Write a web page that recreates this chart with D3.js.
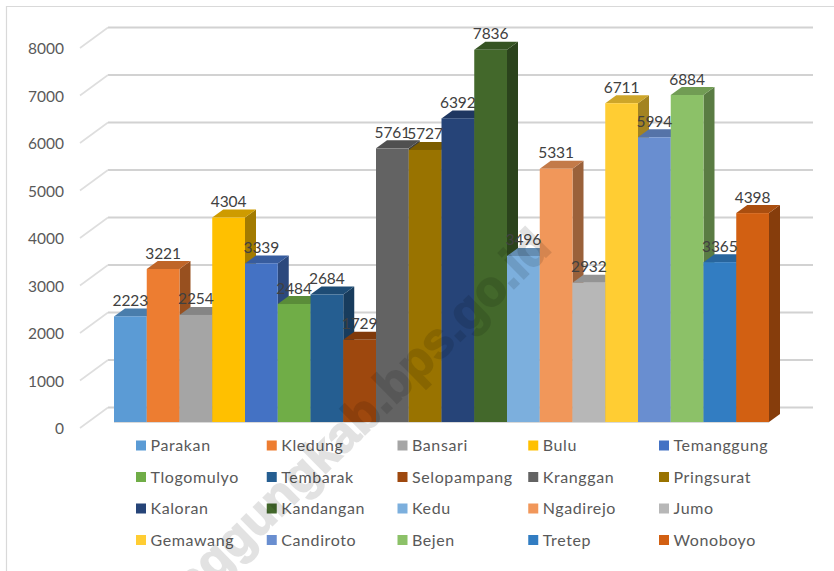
<!DOCTYPE html>
<html>
<head>
<meta charset="utf-8">
<script src="https://cdn.jsdelivr.net/npm/d3@7"></script>
<style>
html, body { margin: 0; padding: 0; background: #fff; }
svg { display: block; }
</style>
</head>
<body>
<svg width="834" height="571"></svg>
<script>
const categories = ['Parakan', 'Kledung', 'Bansari', 'Bulu', 'Temanggung',
    'Tlogomulyo', 'Tembarak', 'Selopampang', 'Kranggan', 'Pringsurat',
    'Kaloran', 'Kandangan', 'Kedu', 'Ngadirejo', 'Jumo',
    'Gemawang', 'Candiroto', 'Bejen', 'Tretep', 'Wonoboyo'];
const values = [2223, 3221, 2254, 4304, 3339, 2484, 2684, 1729, 5761, 5727,
    6392, 7836, 3496, 5331, 2932, 6711, 5994, 6884, 3365, 4398];
const colors = ['#5b9bd5', '#ed7d31', '#a5a5a5', '#ffc000', '#4472c4',
    '#70ad47', '#255e91', '#9e480e', '#636363', '#997300',
    '#264478', '#43682b', '#7cafdd', '#f1975a', '#b7b7b7',
    '#ffcd33', '#698ed0', '#8cc168', '#327dc2', '#d26012'];
const yTicks = [0, 1000, 2000, 3000, 4000, 5000, 6000, 7000, 8000];

const svg = d3.select('svg');
const font = 'Lato, sans-serif';

//chart border
svg.append('path')
    .attr('d', 'M6.5,571V6.5H834')
    .attr('fill', 'none')
    .attr('stroke', '#d9d9d9')
    .attr('stroke-width', 1.2);

//scales. y is on the front plane of the axis, bars and wall are shifted from it
const x = d3.scaleBand().domain(categories).range([114, 769]);
const y = d3.scaleLinear().domain([0, 8000]).range([428, 48]);

const barShift = -6;
const wallDx = 28;
const wallDy = -20.5;
const depthX = 11;
const depthY = -8;

//back wall grid
svg.append('g').selectAll('line')
    .data(yTicks)
    .join('line')
    .attr('x1', 108)
    .attr('x2', 813)
    .attr('y1', d => y(d) + wallDy)
    .attr('y2', d => y(d) + wallDy)
    .attr('stroke', '#d2d2d2')
    .attr('stroke-width', 1.8);

//left side wall ticks
svg.append('g').selectAll('line')
    .data(yTicks)
    .join('line')
    .attr('x1', 80)
    .attr('x2', 80 + wallDx)
    .attr('y1', d => y(d))
    .attr('y2', d => y(d) + wallDy)
    .attr('stroke', '#dedede')
    .attr('stroke-width', 1.6);

//y axis labels
const yAxis = svg.append('g')
    .attr('transform', 'translate(64,0.8)')
    .call(d3.axisLeft(y).tickValues(yTicks).tickSize(0).tickPadding(0).tickFormat(d3.format('d')));
yAxis.select('.domain').remove();
yAxis.selectAll('text')
    .attr('fill', '#595959')
    .attr('font-family', font)
    .attr('font-size', 15.5);

//floor edge under bars
svg.append('line')
    .attr('x1', 114)
    .attr('x2', 769)
    .attr('y1', y(0) + barShift + 0.5)
    .attr('y2', y(0) + barShift + 0.5)
    .attr('stroke', '#d9d9d9')
    .attr('stroke-width', 1);

//bars left to right, so next front face sits over the side of previous one
const bars = svg.append('g').selectAll('g')
    .data(categories)
    .join('g');

const barTop = (d, i) => y(values[i]) + barShift;
const barBottom = y(0) + barShift;

bars.append('path') //side
    .attr('d', (d, i) => {
        const r = x(d) + x.bandwidth();
        return `M${r},${barTop(d, i)}l${depthX},${depthY}V${barBottom + depthY}l${-depthX},${-depthY}Z`;
    })
    .attr('fill', (d, i) => d3.color(colors[i]).darker(1.25));

bars.append('path') //top
    .attr('d', (d, i) => {
        const w = x.bandwidth();
        return `M${x(d)},${barTop(d, i)}l${depthX},${depthY}h${w}l${-depthX},${-depthY}Z`;
    })
    .attr('fill', (d, i) => d3.color(colors[i]).darker(0.6));

bars.append('rect') //front
    .attr('x', d => x(d))
    .attr('y', barTop)
    .attr('width', x.bandwidth())
    .attr('height', (d, i) => barBottom - barTop(d, i))
    .attr('fill', (d, i) => colors[i]);

//legend
const legendCols = d3.scalePoint().domain(d3.range(5)).range([136, 659]);
const legendRows = d3.scalePoint().domain(d3.range(4)).range([445.5, 540]);

const legend = svg.append('g').selectAll('g')
    .data(categories)
    .join('g')
    .attr('transform', (d, i) => `translate(${legendCols(i % 5)},${legendRows(Math.floor(i / 5))})`);

legend.append('rect')
    .attr('y', -5)
    .attr('width', 10)
    .attr('height', 10)
    .attr('fill', (d, i) => colors[i]);

legend.append('text')
    .attr('x', 14.5)
    .attr('dy', '0.35em')
    .attr('fill', '#595959')
    .attr('font-family', font)
    .attr('font-size', 16)
    .attr('letter-spacing', 0.6)
    .text(d => d);

//watermark runs off the bottom of the picture like in the source
svg.append('text')
    .attr('transform', 'translate(553,250) rotate(-44.5)')
    .attr('text-anchor', 'end')
    .attr('fill', '#000')
    .attr('stroke', '#000')
    .attr('stroke-width', 1.6)
    .attr('opacity', 0.11)
    .attr('font-family', '"Liberation Sans", sans-serif')
    .attr('font-weight', 700)
    .attr('font-size', 50)
    .text('temanggungkab.bps.go.id');

//value labels
svg.append('g').selectAll('text')
    .data(categories)
    .join('text')
    .attr('x', d => x(d) + x.bandwidth() / 2)
    .attr('y', (d, i) => barTop(d, i) - 10.5)
    .attr('text-anchor', 'middle')
    .attr('fill', '#404040')
    .attr('font-family', font)
    .attr('font-size', 15.5)
    .text((d, i) => values[i]);
</script>
</body>
</html>
